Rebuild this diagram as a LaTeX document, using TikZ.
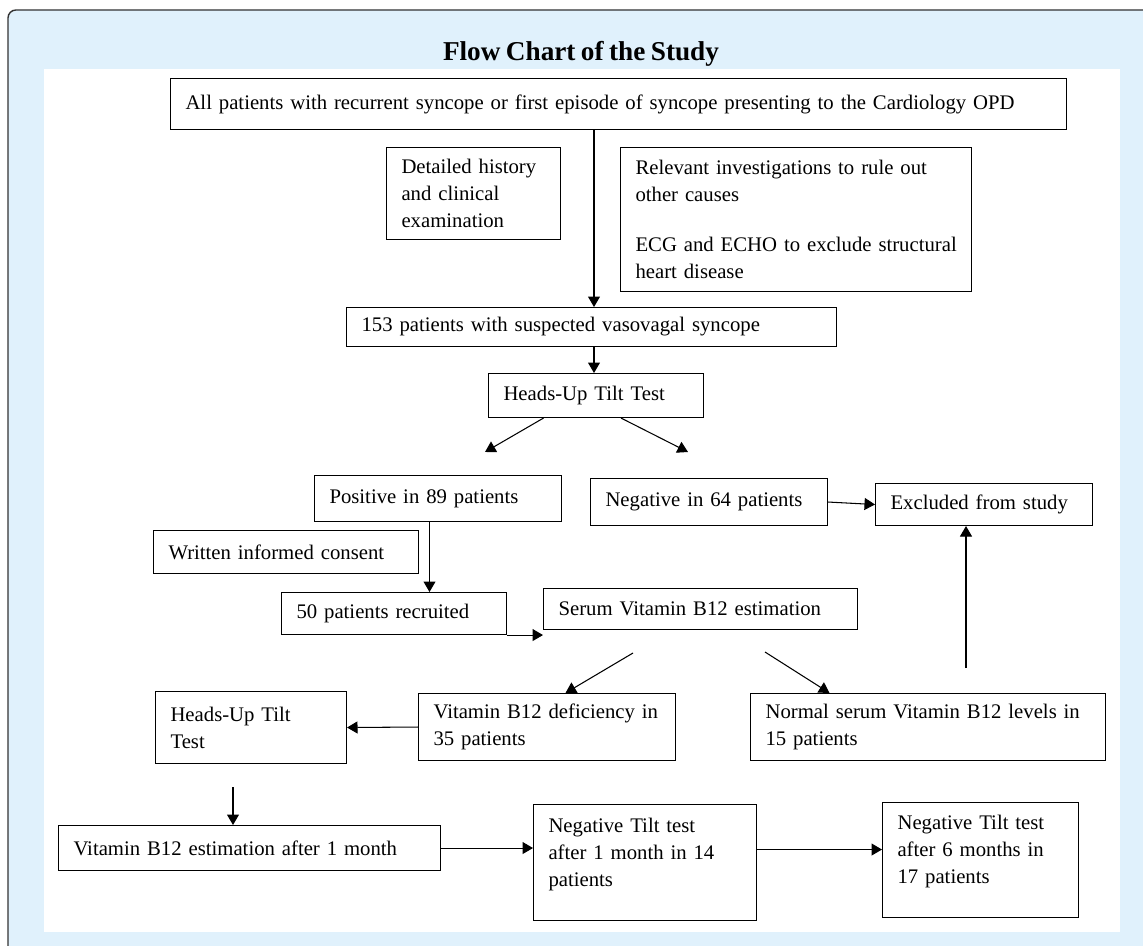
\documentclass[tikz,border=0pt]{standalone}
\usepackage{fontspec}
\setmainfont[WordSpace=0.8]{Liberation Serif}
\usetikzlibrary{arrows.meta}
\hyphenpenalty=10000
\exhyphenpenalty=10000

\definecolor{panelblue}{HTML}{E0F1FC}
\tikzset{
  box/.style={draw, line width=.6pt, anchor=north west, align=left,
    inner xsep=0.3cm, inner ysep=0pt, font=\fontsize{11.8}{15.4}\selectfont},
  arr/.style={line width=.6pt, -{Triangle[length=0.21cm,width=0.24cm]}}
}

\begin{document}
\begin{tikzpicture}[x=0.02cm, y=-0.02cm]
\useasboundingbox (0,0) rectangle (1143,946);
\draw[fill=panelblue, draw=black!80, line width=.8pt, rounded corners=4.5pt] (8,10) rectangle (1170,980);
\fill[white] (44,69) rectangle (1120,932);

\node[font=\fontsize{15.5}{18}\selectfont\bfseries] (title) at (581,54) {Flow Chart of the Study};

\node[box, text width=17.32cm, minimum height=1.02cm] (all) at (170,78)
  {All patients with recurrent syncope or first episode of syncope presenting to the Cardiology OPD};
\node[box, text width=2.88cm, minimum height=1.84cm] (hist) at (386,147)
  {Detailed history\\and clinical\\examination};
\node[box, text width=6.42cm, minimum height=2.88cm] (inv) at (620,147)
  {Relevant investigations to rule out\\other causes\\[0.46cm]\mbox{ECG and ECHO to exclude structural}\\heart disease};
\node[box, text width=9.2cm, minimum height=0.78cm] (susp) at (346,307)
  {153 patients with suspected vasovagal syncope};
\node[box, text width=3.7cm, minimum height=0.88cm] (hutt) at (488,373)
  {Heads-Up Tilt Test};
\node[box, text width=4.34cm, minimum height=0.92cm] (pos) at (314,475)
  {Positive in 89 patients};
\node[box, text width=4.14cm, minimum height=0.94cm] (neg) at (590,478)
  {Negative in 64 patients};
\node[box, text width=3.74cm, minimum height=0.84cm] (excl) at (875,483)
  {Excluded from study};
\node[box, text width=4.7cm, minimum height=0.86cm] (cons) at (153,530)
  {Written informed consent};
\node[box, text width=3.9cm, minimum height=0.84cm] (recr) at (281,592)
  {50 patients recruited};
\node[box, text width=5.68cm, minimum height=0.82cm] (serum) at (543,588)
  {Serum Vitamin B12 estimation};
\node[box, text width=4.54cm, minimum height=1.34cm] (defic) at (418,693)
  {Vitamin B12 deficiency in\\35 patients};
\node[box, text width=6.5cm, minimum height=1.34cm] (normal) at (750,693)
  {Normal serum Vitamin B12 levels in\\15 patients};
\node[box, text width=3.22cm, minimum height=1.44cm] (huttb) at (155,691)
  {Heads-Up Tilt\\Test};
\node[box, text width=7.04cm, minimum height=0.9cm] (month) at (58,825)
  {Vitamin B12 estimation after 1 month};
\node[box, text width=3.86cm, minimum height=2.32cm] (negone) at (533,804)
  {Negative Tilt test\\after 1 month in 14\\patients\rule[-0.41cm]{0pt}{0.41cm}};
\node[box, text width=3.32cm, minimum height=2.3cm] (negsix) at (882,802)
  {Negative Tilt test\\after 6 months in\\17 patients\rule[-0.43cm]{0pt}{0.43cm}};

\coordinate (sl) at (633,653);
\coordinate (sr) at (765,652);
\coordinate (nt) at (966,668);
\coordinate (hb) at (233,787);

\draw[arr] (all.south -| 594,0) -- (susp.north -| 594,0);
\draw[arr] (susp.south -| 594,0) -- (hutt.north -| 594,0);
\draw[arr] ([xshift=-1.05cm]hutt.south) -- (485,452);
\draw[arr] ([xshift=0.5cm]hutt.south) -- (688,452);
\draw[arr] (neg.east) -- (excl.west);
\draw[arr] ([xshift=-0.17cm]pos.south) -- ([xshift=-0.17cm]pos.south |- recr.north);
\draw[arr] (recr.south east) -- (recr.south east -| serum.west);
\draw[arr] (sl) -- ([xshift=0.37cm]defic.north);
\draw[arr] (sr) -- ([xshift=-1.97cm]normal.north);
\draw[arr] (nt) -- (nt |- excl.south);
\draw[arr] (defic.west) -- (huttb.east);
\draw[arr] (hb) -- (hb |- month.north);
\draw[arr] (month.east) -- (month.east -| negone.west);
\draw[arr] ([yshift=0.26cm]negone.east) -- ([yshift=0.26cm]negone.east -| negsix.west);
\end{tikzpicture}
\end{document}
